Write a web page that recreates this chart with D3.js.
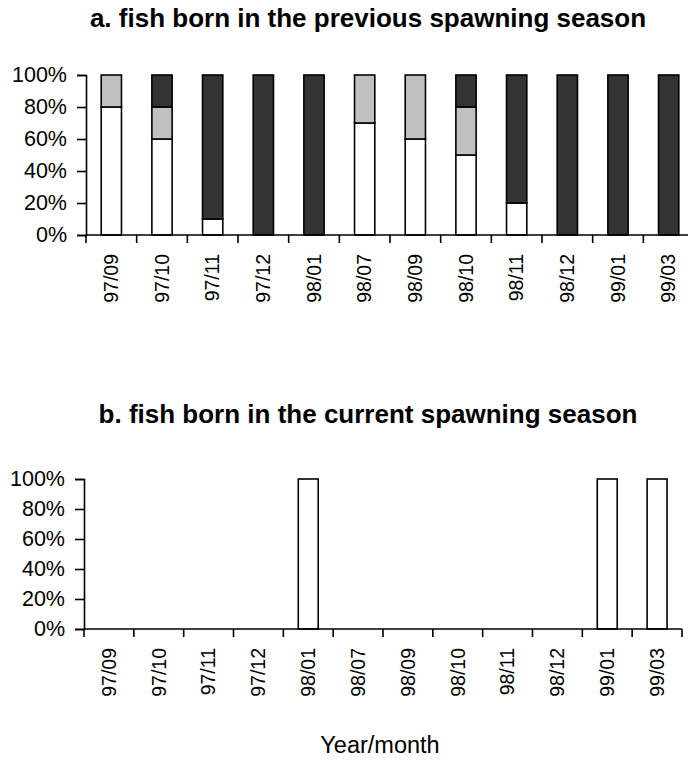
<!DOCTYPE html>
<html>
<head>
<meta charset="utf-8">
<script src="https://cdn.jsdelivr.net/npm/d3@7"></script>
<style>
  html, body { margin: 0; padding: 0; background: #fff; }
  svg { display: block; font-family: "Liberation Sans", Arial, sans-serif; }
</style>
</head>
<body>
<svg id="chart" width="688" height="760"></svg>
<script>
// Sampling months
const months = ["97/09", "97/10", "97/11", "97/12", "98/01", "98/07",
                "98/09", "98/10", "98/11", "98/12", "99/01", "99/03"];

// Panel a: proportions (%) per age class, stacked bottom to top
const prevLight  = [80, 60, 10, 0, 0, 70, 60, 50, 20, 0, 0, 0];
const prevGrey   = [20, 20, 0, 0, 0, 30, 40, 30, 0, 0, 0, 0];
const prevDark   = [0, 20, 90, 100, 100, 0, 0, 20, 80, 100, 100, 100];

// Panel b: proportions (%) per age class
const currLight  = [0, 0, 0, 0, 100, 0, 0, 0, 0, 0, 100, 100];
const currGrey   = [0, 0, 0, 0, 0, 0, 0, 0, 0, 0, 0, 0];
const currDark   = [0, 0, 0, 0, 0, 0, 0, 0, 0, 0, 0, 0];

const yTicks = [0, 20, 40, 60, 80, 100];

const seriesKeys = ["light", "grey", "dark"];
const fills = { light: "#ffffff", grey: "#c0c0c0", dark: "#333333" };

const svg = d3.select("#chart");

function panel(opts) {
  const { title, titleY, left, right, top, bottom, light, grey, dark } = opts;
  const rows = months.map((m, i) => ({ month: m, light: light[i], grey: grey[i], dark: dark[i] }));

  const x = d3.scaleBand().domain(months).range([left, right]).paddingInner(0.6).paddingOuter(0.3);
  const y = d3.scaleLinear().domain([0, 100]).range([bottom, top]);

  const g = svg.append("g");

  g.append("text")
    .attr("x", 368).attr("y", titleY)
    .attr("text-anchor", "middle")
    .style("font-size", "26px").style("font-weight", "bold")
    .text(title);

  const stacks = d3.stack().keys(seriesKeys)(rows);
  stacks.forEach(s => {
    g.append("g").selectAll("rect")
      .data(s.filter(d => d[1] - d[0] > 0))
      .join("rect")
      .attr("x", d => x(d.data.month))
      .attr("width", x.bandwidth())
      .attr("y", d => y(d[1]))
      .attr("height", d => y(d[0]) - y(d[1]))
      .attr("fill", fills[s.key])
      .attr("stroke", "#000")
      .attr("stroke-width", 1.6);
  });

  // Y axis
  const yAxis = g.append("g")
    .attr("transform", `translate(${left},0)`)
    .call(d3.axisLeft(y).tickValues(yTicks).tickFormat(d => d + "%").tickSize(9).tickPadding(10));
  yAxis.select(".domain").attr("stroke-width", 1.6);
  yAxis.selectAll(".tick line").attr("stroke-width", 1.6);
  yAxis.selectAll("text").style("font-size", "21.5px").attr("fill", "#000");

  // X axis: labels centred on bars, ticks between categories
  const xAxis = g.append("g")
    .attr("transform", `translate(0,${bottom})`)
    .call(d3.axisBottom(x).tickSize(0).tickPadding(0));
  xAxis.select(".domain").remove();
  xAxis.selectAll(".tick text")
    .style("font-size", "19.5px").attr("fill", "#000")
    .attr("transform", "rotate(-90)")
    .attr("text-anchor", "end")
    .attr("x", -19).attr("y", 0).attr("dy", "0.35em");

  const step = x.step();
  const bounds = months.map((_, i) => left + i * step);
  bounds.push(right);
  g.append("line")
    .attr("x1", left).attr("x2", right)
    .attr("y1", bottom).attr("y2", bottom)
    .attr("stroke", "#000").attr("stroke-width", 1.6);
  g.append("g").selectAll("line")
    .data(bounds)
    .join("line")
    .attr("x1", d => d).attr("x2", d => d)
    .attr("y1", bottom).attr("y2", bottom + 8)
    .attr("stroke", "#000").attr("stroke-width", 1.6);
}

panel({
  title: "a. fish born in the previous spawning season", titleY: 27,
  left: 86, right: 694, top: 75, bottom: 235,
  light: prevLight, grey: prevGrey, dark: prevDark
});

panel({
  title: "b. fish born in the current spawning season", titleY: 423,
  left: 84, right: 682, top: 479, bottom: 629,
  light: currLight, grey: currGrey, dark: currDark
});

svg.append("text")
  .attr("x", 380).attr("y", 753)
  .attr("text-anchor", "middle")
  .style("font-size", "23.5px")
  .text("Year/month");
</script>
</body>
</html>
